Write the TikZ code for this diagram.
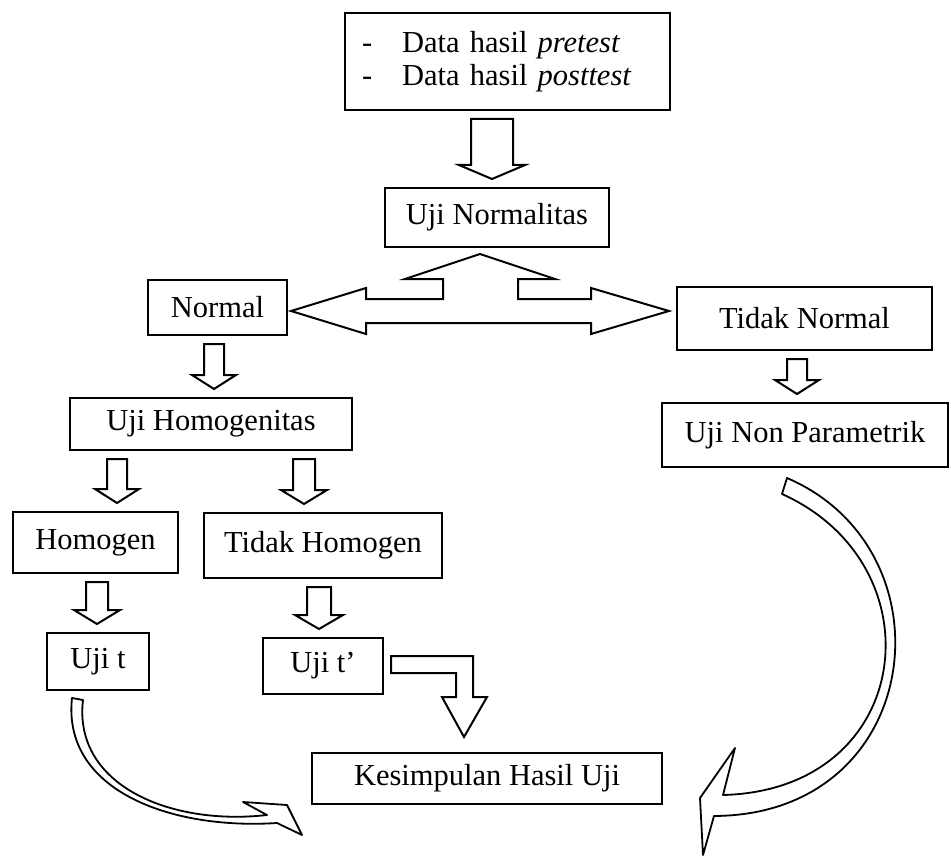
\documentclass[tikz,border=0pt]{standalone}
\usepackage{fontspec}
\setmainfont{Liberation Serif}
\usepackage{tikz}
\usetikzlibrary{calc}

\tikzset{
  kotak/.style={draw, line width=2pt, fill=white, inner sep=0pt,
    font=\fontsize{30.5}{33}\selectfont},
  hollow/.style={draw, line width=2pt, fill=white, line join=miter},
  lengkung/.style={draw, line width=1.8pt, fill=white, line join=round},
}

% hollow down arrow between two boxes: [shaft half width]{from}{to}{x}
\newcommand{\blockdown}[4][10]{%
  \draw[hollow] let \p1=(#2.south), \p2=(#3.north) in
    (#4-#1,\y1-8) -- (#4+#1,\y1-8) -- (#4+#1,\y2+22) -- (#4+#1+12,\y2+22)
    -- (#4,\y2+8) -- (#4-#1-12,\y2+22) -- (#4-#1,\y2+22) -- cycle;}

\begin{document}
\begin{tikzpicture}[x=1pt,y=-1pt]
  \useasboundingbox (0,0) rectangle (951,856);

  \node[kotak, text width=291pt, inner xsep=17pt, minimum height=97pt, align=left]
    (data) at (507.5,61.5)
    {-\hspace{30pt}Data hasil \textit{pretest}\\-\hspace{30pt}Data hasil \textit{posttest}};
  \node[kotak, minimum width=224pt, minimum height=59pt] (normalitas) at (497,217.5) {Uji Normalitas};
  \node[kotak, minimum width=139pt, minimum height=55pt] (normal) at (217.5,307.5) {Normal};
  \node[kotak, minimum width=255pt, minimum height=63pt] (tidaknormal) at (804.5,318.5) {Tidak Normal};
  \node[kotak, minimum width=282pt, minimum height=52pt] (homogenitas) at (211,424) {Uji Homogenitas};
  \node[kotak, minimum width=286pt, minimum height=64pt] (nonparametrik) at (805,435) {Uji Non Parametrik};
  \node[kotak, minimum width=165pt, minimum height=61pt] (homogen) at (95.5,542.5) {Homogen};
  \node[kotak, minimum width=238pt, minimum height=65pt] (tidakhomogen) at (323,545.5) {Tidak Homogen};
  \node[kotak, minimum width=102pt, minimum height=57pt] (ujit) at (98,661.5) {Uji t};
  \node[kotak, minimum width=120pt, minimum height=56pt] (ujitp) at (323,666) {Uji t’};
  \node[kotak, minimum width=350pt, minimum height=51pt] (kesimpulan) at (487,778.5) {Kesimpulan Hasil Uji};

  % straight arrows
  \blockdown[21]{data}{normalitas}{492}
  \blockdown{normal}{homogenitas}{214}
  \blockdown{tidaknormal}{nonparametrik}{797}
  \blockdown{homogenitas}{homogen}{117}
  \blockdown[11]{homogenitas}{tidakhomogen}{304}
  \blockdown[11]{homogen}{ujit}{97}
  \blockdown[12]{tidakhomogen}{ujitp}{319}

  % three way arrow under Uji Normalitas
  \draw[hollow] let \p1=(normal.east), \p2=(tidaknormal.west), \p3=(normalitas.south) in
    (\x1+3,\y1-3.5) -- (\x1+78,\y1+19.5) -- (\x1+78,\y1+8.5) -- (\x3-54,\y1+8.5)
    -- (\x3-54,\y3-31) -- (\x3-92,\y3-31) -- (\x3-17,\y3-6) -- (\x3+58,\y3-31)
    -- (\x3+21,\y3-31) -- (\x3+21,\y1+8.5) -- (\x2-85,\y1+8.5) -- (\x2-85,\y1+19.5)
    -- (\x2-7,\y1-3.5) -- (\x2-85,\y1-26.5) -- (\x2-85,\y1-15.5) -- (\x1+78,\y1-15.5)
    -- (\x1+78,\y1-26.5) -- cycle;

  % bent arrow Uji t' to Kesimpulan
  \draw[hollow] let \p1=(ujitp.east), \p2=(kesimpulan.north) in
    (\x1+7,\y1+10) -- (\x2-14,\y1+10) -- (\x2-14,\y2+55) -- (\x2,\y2+55)
    -- (\x2-23,\y2+15) -- (\x2-45,\y2+55) -- (\x2-31,\y2+55) -- (\x2-31,\y1-7)
    -- (\x1+7,\y1-7) -- cycle;

  % curved arrows
  \coordinate (ujungkiri) at (302,835);
  \coordinate (ujungkanan) at (703,855);
  \draw[lengkung] ($(ujit.south)+(-26,7)$) .. controls (62,790) and (170,830) .. (277,823)
    -- (ujungkiri) -- (287,805) -- (243,802) -- (267,815)
    .. controls (170,826) and (73,785) .. ($(ujit.south)+(-15,9)$) -- cycle;
  \draw[lengkung] ($(nonparametrik.south)+(-18,10)$) .. controls (955,550) and (925,815) .. (714,816)
    -- (ujungkanan) -- (700,798) -- (735,748) -- (723,795)
    .. controls (915,790) and (940,565) .. ($(nonparametrik.south)+(-23,26)$) -- cycle;
\end{tikzpicture}
\end{document}
